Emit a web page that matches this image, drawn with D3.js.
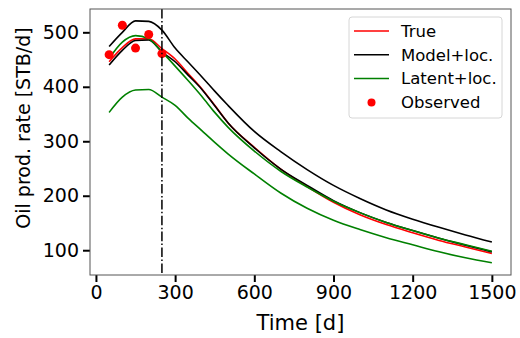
<!DOCTYPE html>
<html>
<head>
<meta charset="utf-8">
<script src="https://cdn.jsdelivr.net/npm/d3@7"></script>
<style>
  body { margin: 0; background: #fff; }
  text { font-family: "DejaVu Sans", sans-serif; fill: #000; }
</style>
</head>
<body>
<svg id="chart" width="520" height="338"></svg>
<script>
// time steps of the simulated curves [d]
var times = [50, 100, 150, 200, 250, 300, 350, 400, 450, 500, 600, 700, 800, 900, 1000, 1100, 1200, 1300, 1400, 1500];
var trueRate = [446, 472, 488, 488, 470, 451, 424, 397, 366, 334, 289, 249, 217, 188, 165, 147, 132, 118, 106, 94];
var modelHi  = [474, 500, 521, 520, 504, 471, 445, 419, 392, 366, 318, 281, 248, 219, 195, 174, 157, 142, 128, 115];
var modelLo  = [440, 467, 485, 486, 464, 446, 421, 396, 365, 334, 288, 249, 219, 191, 169, 151, 136, 122, 109, 97];
var latentHi = [452, 482, 494, 488, 464, 438, 411, 383, 353, 326, 282, 245, 216, 190, 169, 151, 136, 122, 110, 98];
var latentLo = [353, 381, 394, 395, 381, 366, 342, 320, 298, 277, 240, 205, 177, 155, 138, 123, 110, 97, 86, 77];

var obsTimes = [50, 100, 150, 200, 250];
var obsRate = [459, 513, 471, 496, 461];

var historyEnd = 250;
var xTicks = [0, 300, 600, 900, 1200, 1500];
var yTicks = [100, 200, 300, 400, 500];

function drawChart(){
  var svg = d3.select('#chart');
  var m = { left: 90, right: 511, top: 9, bottom: 275 };

  var x = d3.scaleLinear().domain([-22.5, 1572.5]).range([m.left, m.right]);
  var y = d3.scaleLinear().domain([54.5, 542.8]).range([m.bottom, m.top]);

  var line = d3.line()
    .curve(d3.curveMonotoneX)
    .x(d => x(d[0]))
    .y(d => y(d[1]));

  var series = vals => times.map((t, i) => [t, vals[i]]);

  var plot = svg.append('g');

  plot.append('path').datum(series(trueRate))
    .attr('fill', 'none').attr('stroke', 'red').attr('stroke-width', 1.6).attr('d', line);
  [modelHi, modelLo].forEach(v => {
    plot.append('path').datum(series(v))
      .attr('fill', 'none').attr('stroke', 'black').attr('stroke-width', 1.6).attr('d', line);
  });
  [latentHi, latentLo].forEach(v => {
    plot.append('path').datum(series(v))
      .attr('fill', 'none').attr('stroke', 'green').attr('stroke-width', 1.6).attr('d', line);
  });

  plot.selectAll('.obs').data(obsTimes).enter()
    .append('circle')
      .attr('cx', d => x(d))
      .attr('cy', (d, i) => y(obsRate[i]))
      .attr('r', 4.5)
      .attr('fill', 'red');

  // end of history
  plot.append('line')
    .attr('x1', x(historyEnd)).attr('x2', x(historyEnd))
    .attr('y1', m.top).attr('y2', m.bottom)
    .attr('stroke', 'black').attr('stroke-width', 1.5)
    .attr('stroke-dasharray', '9.6,2.4,1.5,2.4');

  // axes
  var xAxis = d3.axisBottom(x).tickValues(xTicks).tickFormat(d3.format('d')).tickSize(7).tickPadding(4);
  var yAxis = d3.axisLeft(y).tickValues(yTicks).tickFormat(d3.format('d')).tickSize(7).tickPadding(4);

  var gx = svg.append('g').attr('transform', 'translate(0,' + m.bottom + ')').call(xAxis);
  var gy = svg.append('g').attr('transform', 'translate(' + m.left + ',0)').call(yAxis);
  [gx, gy].forEach(g => {
    g.select('.domain').remove();
    g.selectAll('.tick line').attr('stroke', 'black').attr('stroke-width', 2);
    g.selectAll('.tick text').style('font-size', '19px').style('font-family', 'DejaVu Sans');
  });

  svg.append('rect')
    .attr('x', m.left).attr('y', m.top)
    .attr('width', m.right - m.left).attr('height', m.bottom - m.top)
    .attr('fill', 'none').attr('stroke', '#555').attr('stroke-width', 1);

  svg.append('text')
    .attr('x', (m.left + m.right) / 2).attr('y', 330)
    .attr('text-anchor', 'middle')
    .style('font-size', '21px')
    .text('Time [d]');

  svg.append('text')
    .attr('transform', 'translate(30,' + 128 + ') rotate(-90)')
    .attr('text-anchor', 'middle')
    .style('font-size', '19px')
    .text('Oil prod. rate [STB/d]');

  // legend
  var legendItems = [
    { label: 'True', color: 'red', type: 'line' },
    { label: 'Model+loc.', color: 'black', type: 'line' },
    { label: 'Latent+loc.', color: 'green', type: 'line' },
    { label: 'Observed', color: 'red', type: 'dot' }
  ];
  var legend = svg.append('g');
  legend.append('rect')
    .attr('x', 349).attr('y', 17).attr('width', 153).attr('height', 101)
    .attr('rx', 3)
    .attr('fill', 'white').attr('fill-opacity', 0.8)
    .attr('stroke', '#d6d6d6').attr('stroke-width', 1);

  var rows = legend.selectAll('.row').data(legendItems).enter()
    .append('g').attr('transform', (d, i) => 'translate(0,' + (31 + i * 23.8) + ')');
  rows.filter(d => d.type === 'line').append('line')
    .attr('x1', 354).attr('x2', 389)
    .attr('stroke', d => d.color).attr('stroke-width', 1.5);
  rows.filter(d => d.type === 'dot').append('circle')
    .attr('cx', 371.5).attr('r', 4).attr('fill', d => d.color);
  rows.append('text')
    .attr('x', 401).attr('dy', '0.35em')
    .style('font-size', '16.5px')
    .text(d => d.label);
}

drawChart();
</script>
</body>
</html>
